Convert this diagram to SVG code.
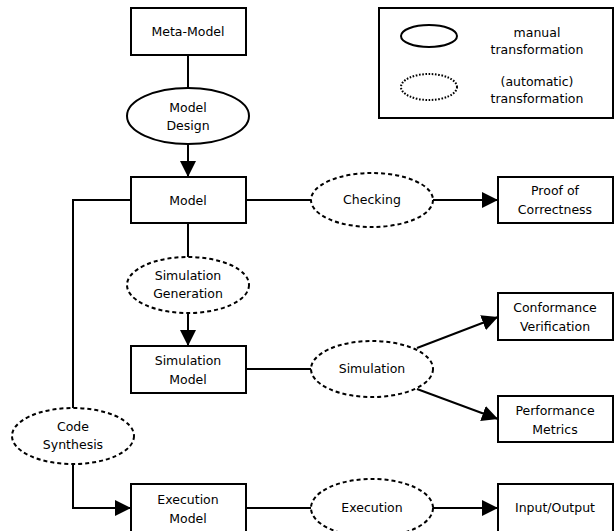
<svg xmlns="http://www.w3.org/2000/svg" width="616" height="531" viewBox="0 0 616 531">
<style>
  .box { fill: #fff; stroke: #000; stroke-width: 2; }
  .man { fill: #fff; stroke: #000; stroke-width: 2; }
  .auto { fill: #fff; stroke: #000; stroke-width: 2; stroke-dasharray: 4 3; }
  .dot { fill: #fff; stroke: #000; stroke-width: 2; stroke-dasharray: 1.6 1.6; }
  .edge { fill: none; stroke: #000; stroke-width: 2; }
  text { font-family: "DejaVu Sans", "Liberation Sans", sans-serif; font-size: 12.5px; text-anchor: middle; fill: #000; }
</style>
<defs>
  <marker id="arr" markerUnits="userSpaceOnUse" markerWidth="16" markerHeight="16" refX="16" refY="8" orient="auto" viewBox="0 0 16 16">
    <path d="M0,0 L16,8 L0,16 z" fill="#000"/>
  </marker>
</defs>
<rect width="616" height="531" fill="#fff"/>

<g id="connectors">
  <line class="edge" x1="188" y1="55" x2="188" y2="88"/>
  <line class="edge" x1="188" y1="144" x2="188" y2="177" marker-end="url(#arr)"/>
  <line class="edge" x1="246" y1="200" x2="311" y2="200"/>
  <line class="edge" x1="433" y1="200" x2="498" y2="200" marker-end="url(#arr)"/>
  <line class="edge" x1="188" y1="223" x2="188" y2="257"/>
  <line class="edge" x1="188" y1="313" x2="188" y2="346" marker-end="url(#arr)"/>
  <line class="edge" x1="246" y1="369" x2="311" y2="369"/>
  <line class="edge" x1="417" y1="348" x2="498" y2="317" marker-end="url(#arr)"/>
  <line class="edge" x1="417" y1="389" x2="498" y2="419" marker-end="url(#arr)"/>
  <polyline class="edge" points="131,200 73,200 73,408"/>
  <polyline class="edge" points="73,464 73,508 131,508" marker-end="url(#arr)"/>
  <line class="edge" x1="246" y1="508" x2="311" y2="508"/>
  <line class="edge" x1="433" y1="508" x2="498" y2="508" marker-end="url(#arr)"/>
</g>

<g id="legend">
  <rect class="box" x="379" y="8" width="234" height="110"/>
  <ellipse class="man" cx="429" cy="36" rx="28" ry="11"/>
  <text x="537" y="37">manual</text>
  <text x="537" y="54">transformation</text>
  <ellipse class="dot" cx="429" cy="87" rx="28" ry="13"/>
  <text x="537" y="86">(automatic)</text>
  <text x="537" y="103">transformation</text>
</g>

<g id="meta-model">
  <rect class="box" x="131" y="8" width="115" height="47"/>
  <text x="188" y="36">Meta-Model</text>
</g>
<g id="model-design">
  <ellipse class="man" cx="188" cy="116" rx="61" ry="28"/>
  <text x="188" y="112">Model</text>
  <text x="188" y="130">Design</text>
</g>
<g id="model">
  <rect class="box" x="131" y="177" width="115" height="46"/>
  <text x="188" y="205">Model</text>
</g>
<g id="checking">
  <ellipse class="auto" cx="372" cy="200" rx="61" ry="27"/>
  <text x="372" y="204">Checking</text>
</g>
<g id="proof">
  <rect class="box" x="498" y="177" width="115" height="46"/>
  <text x="555" y="195">Proof of</text>
  <text x="555" y="214">Correctness</text>
</g>
<g id="simulation-generation">
  <ellipse class="auto" cx="188" cy="285" rx="61" ry="28"/>
  <text x="188" y="280">Simulation</text>
  <text x="188" y="298">Generation</text>
</g>
<g id="simulation-model">
  <rect class="box" x="131" y="346" width="115" height="47"/>
  <text x="188" y="365">Simulation</text>
  <text x="188" y="384">Model</text>
</g>
<g id="simulation">
  <ellipse class="auto" cx="372" cy="369" rx="61" ry="28"/>
  <text x="372" y="373">Simulation</text>
</g>
<g id="conformance">
  <rect class="box" x="498" y="293" width="115" height="47"/>
  <text x="555" y="312">Conformance</text>
  <text x="555" y="331">Verification</text>
</g>
<g id="performance">
  <rect class="box" x="498" y="396" width="115" height="46"/>
  <text x="555" y="415">Performance</text>
  <text x="555" y="434">Metrics</text>
</g>
<g id="code-synthesis">
  <ellipse class="auto" cx="73" cy="436" rx="61" ry="28"/>
  <text x="73" y="431">Code</text>
  <text x="73" y="449">Synthesis</text>
</g>
<g id="execution-model">
  <rect class="box" x="131" y="484" width="115" height="60"/>
  <text x="188" y="504">Execution</text>
  <text x="188" y="523">Model</text>
</g>
<g id="execution">
  <ellipse class="auto" cx="372" cy="508" rx="61" ry="29"/>
  <text x="372" y="512">Execution</text>
</g>
<g id="input-output">
  <rect class="box" x="498" y="484" width="115" height="60"/>
  <text x="555" y="512">Input/Output</text>
</g>
</svg>
